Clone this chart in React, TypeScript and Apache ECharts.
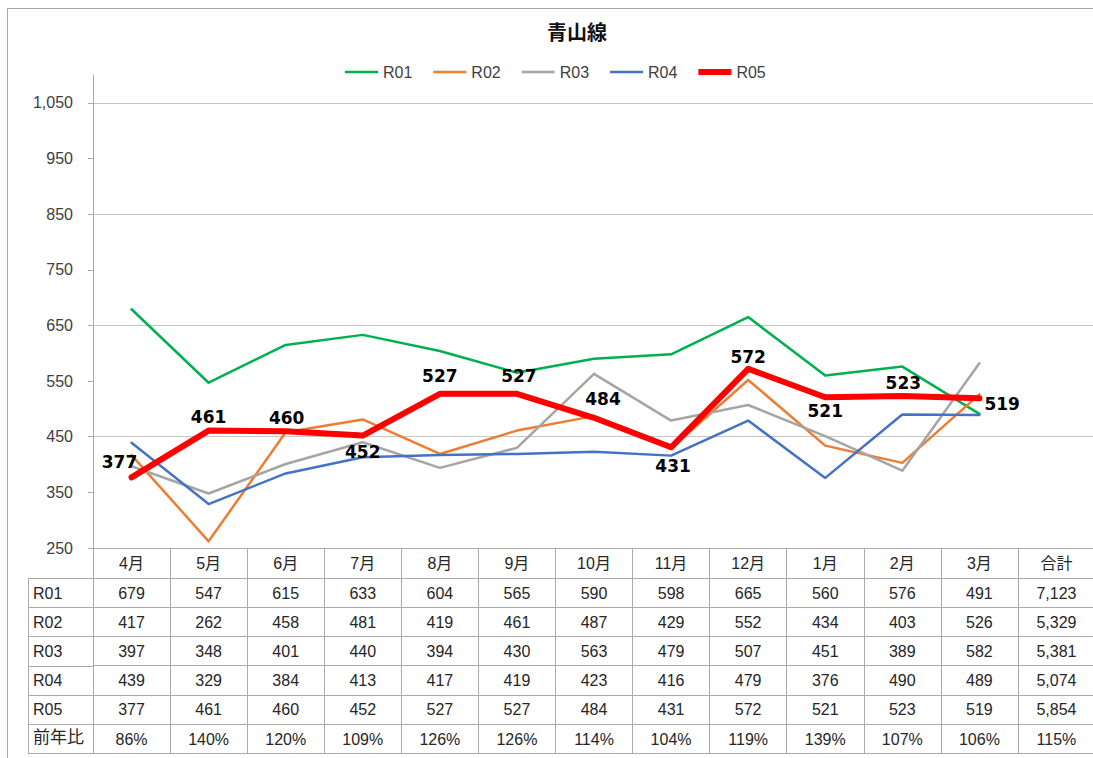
import React, { useEffect, useRef } from 'react';
import * as echarts from 'echarts';

// ---------- data ----------
const titleText = '青山線';
const months = ['4月', '5月', '6月', '7月', '8月', '9月', '10月', '11月', '12月', '1月', '2月', '3月'];
const totalLabel = '合計';
const seriesNames = ['R01', 'R02', 'R03', 'R04', 'R05'];
const r01 = [679, 547, 615, 633, 604, 565, 590, 598, 665, 560, 576, 491];
const r02 = [417, 262, 458, 481, 419, 461, 487, 429, 552, 434, 403, 526];
const r03 = [397, 348, 401, 440, 394, 430, 563, 479, 507, 451, 389, 582];
const r04 = [439, 329, 384, 413, 417, 419, 423, 416, 479, 376, 490, 489];
const r05 = [377, 461, 460, 452, 527, 527, 484, 431, 572, 521, 523, 519];
const totals = [7123, 5329, 5381, 5074, 5854];
const ratioLabel = '前年比';
const ratios = ['86%', '140%', '120%', '109%', '126%', '126%', '114%', '104%', '119%', '139%', '107%', '106%', '115%'];
const yTicks = [250, 350, 450, 550, 650, 750, 850, 950, 1050];
const yMin = 250;
const yMax = 1100;
const yStep = 50;

// ---------- styles ----------
const colors = ['#00B050', '#ED7D31', '#A5A5A5', '#4472C4', '#FF0000'];
const FONT = "'Liberation Sans', 'Noto Sans CJK JP', sans-serif";
const GRID_COLOR = '#c6c6c6';
const TABLE_COLOR = '#ababab';
const TEXT_COLOR = '#262626';
const AXIS_TEXT = '#404040';

const W = 1093;
const H = 758;
const GRID_LEFT = 93;
const GRID_RIGHT = -2;
const GRID_TOP = 75;
const GRID_BOTTOM_Y = 548;
const HEADER_H = 30;
const ROW_H = 29.2;
const TABLE_LEFT = 28;

// label placement for R05 data labels (style only)
const r05LabelPlace: any[] = [
  { position: 'top', offset: [-12, -2] },
  { position: 'top', offset: [0, 0] },
  { position: 'top', offset: [1, 0] },
  { position: 'bottom', offset: [0, 3] },
  { position: 'top', offset: [0, -4] },
  { position: 'top', offset: [2, -4] },
  { position: 'top', offset: [9, -5] },
  { position: 'bottom', offset: [2, 5] },
  { position: 'top', offset: [0, 2] },
  { position: 'bottom', offset: [0, 0] },
  { position: 'top', offset: [1, 0] },
  { position: 'right', offset: [0, 6] },
];

const fmt = (v: number) => v.toLocaleString('en-US');

export default function App() {
  const ref = useRef<HTMLDivElement>(null);

  useEffect(() => {
    document.body.style.margin = '0';
    const chart = echarts.init(ref.current!, null, { renderer: 'svg' });

    const categories = [...months, totalLabel];
    const values = [r01, r02, r03, r04, r05];

    const rowLabels: string[][] = values.map((v, i) => [...v.map(fmt), fmt(totals[i])]);
    const rowNames = [...seriesNames, ratioLabel];
    const rows = [...rowLabels, ratios];

    const tableAxes = rows.map((labels, k) => ({
      type: 'category',
      gridIndex: 0,
      position: 'bottom',
      offset: HEADER_H + k * ROW_H,
      data: labels,
      boundaryGap: true,
      axisLine: { show: true, onZero: false, lineStyle: { color: TABLE_COLOR, width: 1 } },
      axisTick: { show: true, interval: 0, length: ROW_H, lineStyle: { color: TABLE_COLOR, width: 1 } },
      axisLabel: { show: true, interval: 0, margin: 7, fontSize: 16, color: TEXT_COLOR, fontFamily: FONT },
      splitLine: { show: false },
      name: rowNames[k],
      nameLocation: 'start',
      nameGap: GRID_LEFT - TABLE_LEFT - 5,
      nameTextStyle: {
        align: 'left',
        verticalAlign: 'top',
        padding: [k === rows.length - 1 ? 5 : 7, 0, 0, 0],
        fontSize: k === rows.length - 1 ? 17 : 16,
        color: TEXT_COLOR,
        fontFamily: FONT,
      },
      silent: true,
    }));

    const bottomAxis = {
      type: 'category',
      gridIndex: 0,
      position: 'bottom',
      offset: HEADER_H + rows.length * ROW_H,
      data: categories,
      axisLine: { show: true, onZero: false, lineStyle: { color: TABLE_COLOR, width: 1 } },
      axisTick: { show: false },
      axisLabel: { show: false },
      splitLine: { show: false },
      silent: true,
    };

    // row label column borders
    const tableTop = GRID_BOTTOM_Y + HEADER_H;
    const tableBottom = GRID_BOTTOM_Y + HEADER_H + rows.length * ROW_H;
    const graphics: any[] = [
      {
        type: 'rect',
        shape: { x: 7.5, y: 8.5, width: W + 20, height: H + 20 },
        style: { fill: 'none', stroke: '#a6a6a6', lineWidth: 1 },
        silent: true,
      },
      {
        type: 'line',
        shape: { x1: TABLE_LEFT + 0.5, y1: tableTop, x2: TABLE_LEFT + 0.5, y2: tableBottom },
        style: { stroke: TABLE_COLOR, lineWidth: 1 },
        silent: true,
      },
    ];
    for (let k = 0; k <= rows.length; k++) {
      const y = Math.round(tableTop + k * ROW_H) + 0.5;
      graphics.push({
        type: 'line',
        shape: { x1: TABLE_LEFT, y1: y, x2: GRID_LEFT, y2: y },
        style: { stroke: TABLE_COLOR, lineWidth: 1 },
        silent: true,
      });
    }

    const series = values.map((v, i) => ({
      type: 'line',
      name: seriesNames[i],
      xAxisIndex: 0,
      yAxisIndex: 0,
      data: i === 4 ? v.map((val, j) => ({ value: val, label: r05LabelPlace[j] })) : v,
      symbol: 'circle',
      symbolSize: 0,
      showSymbol: true,
      lineStyle: { color: colors[i], width: i === 4 ? 6 : 2.5, cap: 'round', join: 'round' },
      itemStyle: { color: colors[i] },
      label:
        i === 4
          ? {
              show: true,
              fontSize: 17,
              fontWeight: 'bold',
              color: '#000',
              fontFamily: "'DejaVu Sans', sans-serif",
              distance: 5,
            }
          : { show: false },
      emphasis: { disabled: true },
      z: i === 4 ? 5 : 2,
      silent: true,
    }));

    const option: any = {
      animation: false,
      backgroundColor: '#ffffff',
      title: {
        text: titleText,
        left: 542,
        top: 16,
        textStyle: { fontSize: 20, fontWeight: 'bold', color: '#111', fontFamily: "'Noto Sans CJK JP', sans-serif" },
      },
      legend: {
        left: 340,
        top: 59,
        itemWidth: 33,
        itemHeight: 6,
        itemGap: 21,
        textStyle: { fontSize: 16, color: AXIS_TEXT, fontFamily: FONT },
        data: seriesNames.map((n, i) => ({
          name: n,
          icon: i === 4 ? 'path://M0,0H33V6H0Z' : 'path://M0,0H33V2.5H0Z',
        })),
        selectedMode: false,
      },
      grid: {
        left: GRID_LEFT,
        right: GRID_RIGHT,
        top: GRID_TOP,
        bottom: H - GRID_BOTTOM_Y,
        containLabel: false,
        outerBoundsMode: 'none',
      },
      xAxis: [
        {
          type: 'category',
          gridIndex: 0,
          position: 'bottom',
          data: categories,
          boundaryGap: true,
          axisLine: { show: true, onZero: false, lineStyle: { color: TABLE_COLOR, width: 1 } },
          axisTick: { show: true, interval: 0, length: HEADER_H, lineStyle: { color: TABLE_COLOR, width: 1 } },
          axisLabel: { interval: 0, margin: 7, fontSize: 16, color: TEXT_COLOR, fontFamily: FONT },
          splitLine: { show: false },
        },
        ...tableAxes,
        bottomAxis,
      ],
      yAxis: {
        type: 'value',
        min: yMin,
        max: yMax,
        interval: yStep,
        axisLine: { show: true, lineStyle: { color: TABLE_COLOR, width: 1 } },
        axisTick: { show: true, length: 5, customValues: yTicks, lineStyle: { color: TABLE_COLOR } },
        axisLabel: {
          customValues: yTicks,
          margin: 20,
          fontSize: 16,
          color: AXIS_TEXT,
          fontFamily: FONT,
          formatter: (v: number) => fmt(v),
        },
        splitLine: { show: true, lineStyle: { color: [GRID_COLOR, 'rgba(0,0,0,0)'], width: 1 } },
      },
      graphic: graphics,
      series,
    };

    chart.setOption(option);
    return () => chart.dispose();
  }, []);

  return <div ref={ref} style={{ width: W, height: H }} />;
}
